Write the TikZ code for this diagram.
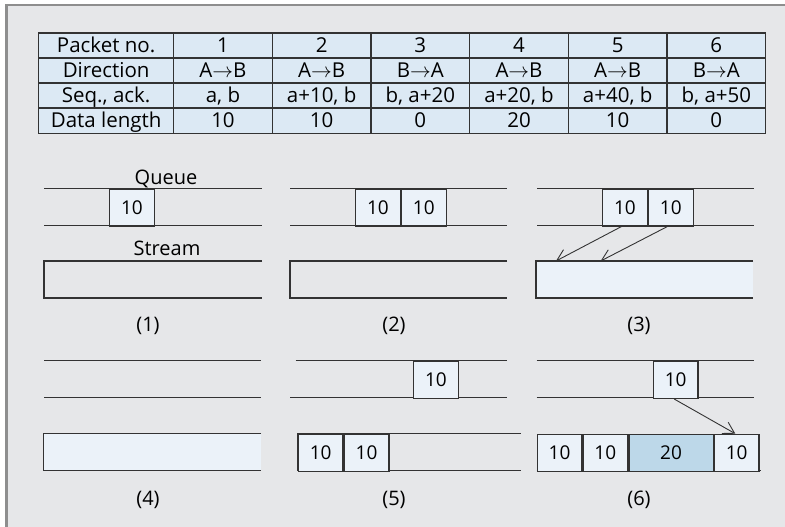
\documentclass[tikz,border=0pt]{standalone}
\usepackage{fontspec}
\setmainfont{Open Sans}
\usetikzlibrary{arrows.meta}

\definecolor{panelbg}{HTML}{E6E7E9}
\definecolor{framegray}{HTML}{8E8E8E}
\definecolor{cellblue}{HTML}{DCE9F4}
\definecolor{boxblue}{HTML}{EBF2F9}
\definecolor{darkblue}{HTML}{BDD8E9}
\definecolor{ink}{HTML}{333333}

\tikzset{
  cell/.style={draw=ink, line width=1.3pt, fill=cellblue, inner sep=0pt,
    minimum height=25pt, text height=16pt, text depth=1.4pt,
    font=\fontsize{20.5}{22}\selectfont, anchor=north west},
  rail/.style={draw=ink, line width=1.3pt},
  pkt/.style={draw=ink, line width=1.3pt, fill=boxblue, inner sep=0pt,
    minimum width=44.6pt, minimum height=37pt, text height=13.6pt, text depth=0pt,
    font=\fontsize{19}{21}\selectfont, anchor=north west},
  caption/.style={inner sep=0pt, text height=14pt, text depth=0pt,
    font=\fontsize{20}{22}\selectfont},
  move/.style={draw=ink, line width=0.9pt, -{Straight Barb[length=11pt, width=13pt]}},
}

\begin{document}
\begin{tikzpicture}[x=1pt, y=-1pt]
  \useasboundingbox (0,0) rectangle (785,527);
  % panel background and its frame
  \fill[panelbg] (6.7,5) rectangle (785,527);
  \draw[framegray, line width=2.6pt] (6.7,527) -- (6.7,5) -- (785,5);

  % packet table
  \foreach [count=\r] \row in {
      {Packet no.,1,2,3,4,5,6},
      {Direction,A$\rightarrow$B,A$\rightarrow$B,B$\rightarrow$A,A$\rightarrow$B,A$\rightarrow$B,B$\rightarrow$A},
      {{Seq., ack.},{a, b},{a+10, b},{b, a+20},{a+20, b},{a+40, b},{b, a+50}},
      {Data length,10,10,0,20,10,0}} {
    \foreach [count=\c] \txt in \row {
      \pgfmathsetmacro{\cx}{\c==1 ? 38 : 173+(\c-2)*98.67}
      \pgfmathsetmacro{\cw}{\c==1 ? 135 : 98.67}
      \pgfmathsetmacro{\cy}{32.5+(\r-1)*25}
      \node[cell, minimum width=\cw pt] (t-\r-\c) at (\cx,\cy) {\txt};
    }
  }

  % (1)
  \draw[rail] (44,188.3) -- (262,188.3) (44,225.3) -- (262,225.3);
  \node[pkt] (q1a) at (109,188.3) {10};
  \draw[rail] (262,261) -- (44,261) -- (44,298) -- (262,298);
  \node[caption] (queue) at (166,177.5) {Queue};
  \node[caption] (stream) at (167,248.7) {Stream};
  \node[caption] (c1) at (148,324) {(1)};

  % (2)
  \draw[rail] (290,188.3) -- (507,188.3) (290,225.3) -- (507,225.3);
  \node[pkt] (q2a) at (355,188.3) {10};
  \node[pkt] (q2b) at (q2a.north east) {10};
  \draw[rail] (507,261) -- (290,261) -- (290,298) -- (507,298);
  \node[caption] (c2) at (394,324) {(2)};

  % (3)
  \draw[rail] (537,188.3) -- (754,188.3) (537,225.3) -- (754,225.3);
  \node[pkt] (q3a) at (602,188.3) {10};
  \node[pkt] (q3b) at (q3a.north east) {10};
  \fill[boxblue] (536,261) rectangle (753,298);
  \draw[rail] (753,261) -- (536,261) -- (536,298) -- (753,298);
  \coordinate (s3a) at (556,261);
  \coordinate (s3b) at (600.7,261);
  \draw[move] ([xshift=-3.6pt]q3a.south) -- (s3a);
  \draw[move] ([xshift=-3.6pt]q3b.south) -- (s3b);
  \node[caption] (c3) at (639,324) {(3)};

  % (4)
  \draw[rail] (44,360.7) -- (261,360.7) (44,397.7) -- (261,397.7);
  \fill[boxblue] (43.5,433.7) rectangle (261,470.7);
  \draw[rail] (261,433.7) -- (43.5,433.7) -- (43.5,470.7) -- (261,470.7);
  \node[caption] (c4) at (148,498) {(4)};

  % (5)
  \draw[rail] (295.7,360.7) -- (507,360.7) (290,397.7) -- (507,397.7);
  \node[pkt] (q5a) at (413,360.7) {10};
  \draw[rail] (520.7,433.7) -- (297.7,433.7) -- (297.7,470.7) -- (520.7,470.7);
  \node[pkt] (s5a) at (297.7,433.7) {10};
  \node[pkt] (s5b) at (s5a.north east) {10};
  \node[caption] (c5) at (394,498) {(5)};

  % (6)
  \draw[rail] (536.7,360.7) -- (754,360.7) (536.7,397.7) -- (754,397.7);
  \node[pkt] (q6a) at (652.7,360.7) {10};
  \draw[rail] (536.7,470.7) -- (760.7,470.7);
  \node[pkt, minimum width=44.3pt] (s6a) at (536.7,433.7) {10};
  \node[pkt, minimum width=44.7pt] (s6b) at (s6a.north east) {10};
  \node[pkt, minimum width=84.3pt, fill=darkblue] (s6c) at (s6b.north east) {20};
  \node[pkt, minimum width=44.3pt] (s6d) at (s6c.north east) {10};
  \draw[move] ([xshift=-1.5pt]q6a.south) -- ([xshift=-1.4pt]s6d.north);
  \node[caption] (c6) at (639,498) {(6)};
\end{tikzpicture}
\end{document}
